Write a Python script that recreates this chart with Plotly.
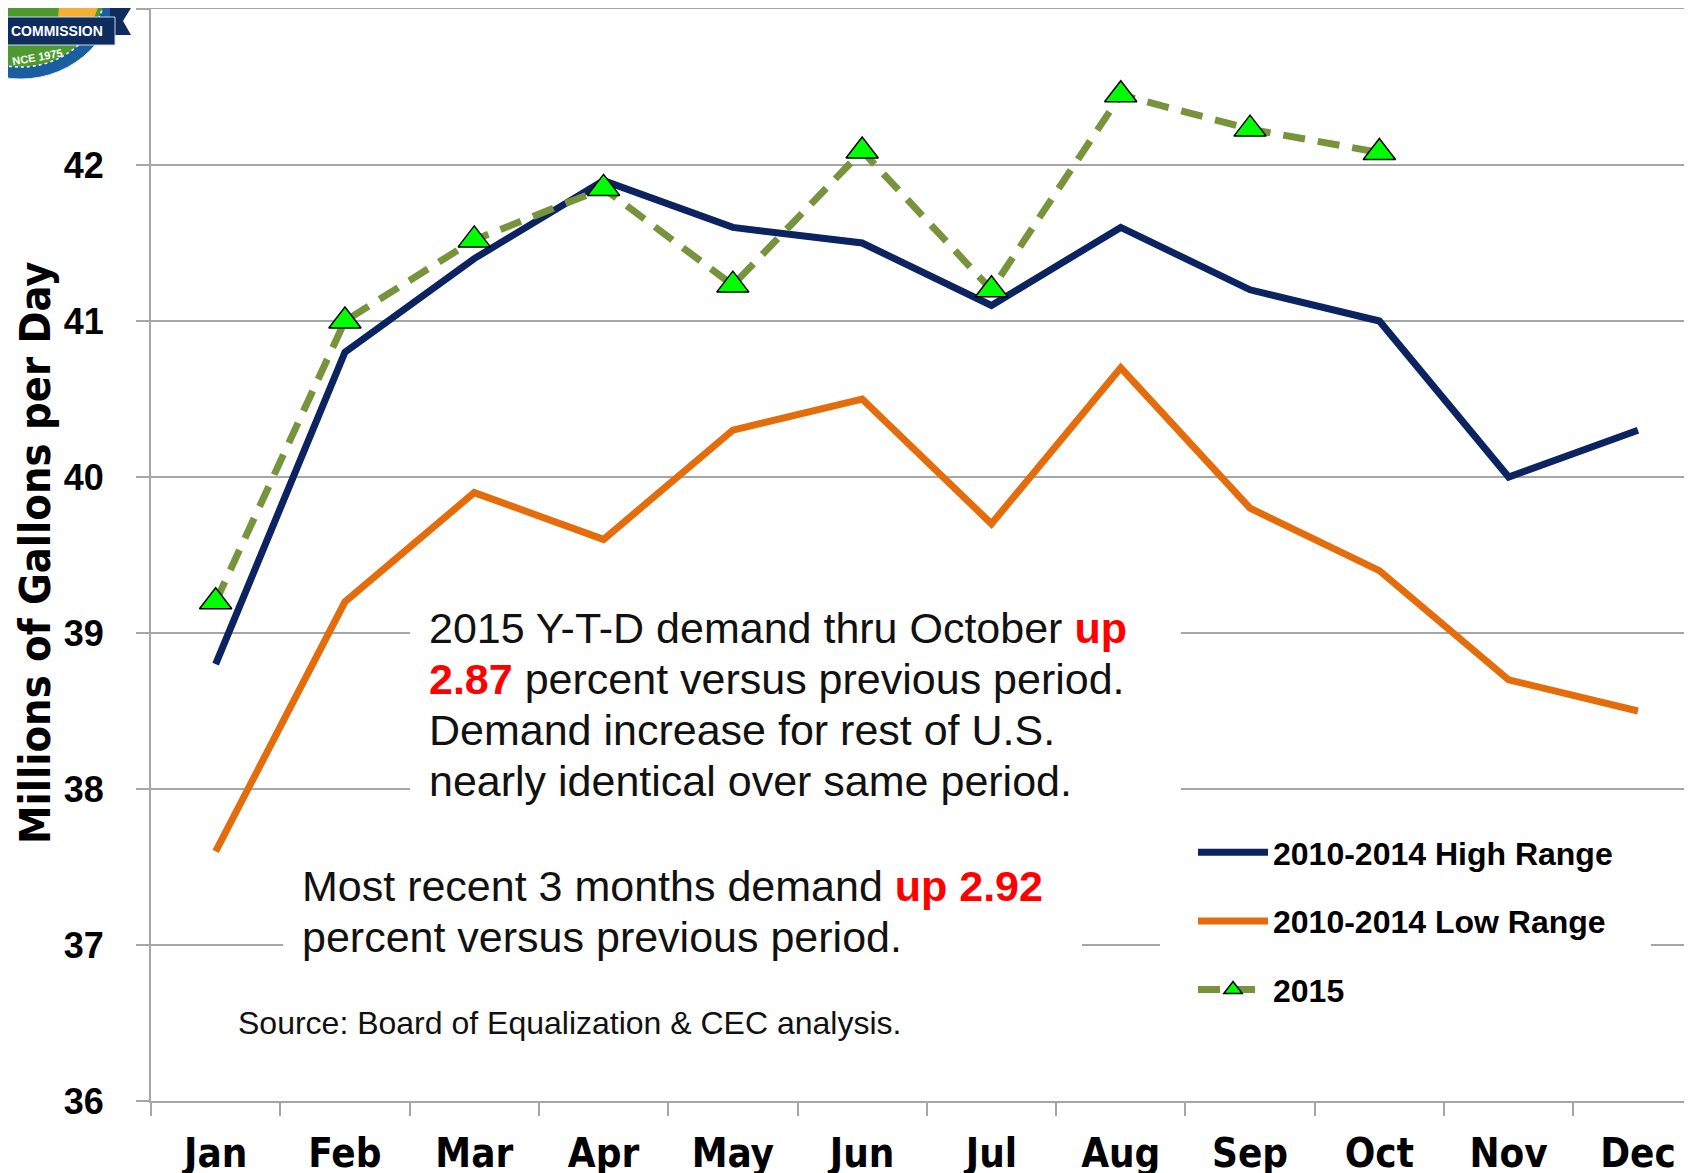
import plotly.graph_objects as go

months = ["Jan", "Feb", "Mar", "Apr", "May", "Jun", "Jul", "Aug", "Sep", "Oct", "Nov", "Dec"]
high_range = [38.8, 40.8, 41.4, 41.9, 41.6, 41.5, 41.1, 41.6, 41.2, 41.0, 40.0, 40.3]
low_range = [37.6, 39.2, 39.9, 39.6, 40.3, 40.5, 39.7, 40.7, 39.8, 39.4, 38.7, 38.5]
months_2015 = ["Jan", "Feb", "Mar", "Apr", "May", "Jun", "Jul", "Aug", "Sep", "Oct"]
y2015 = [39.2, 41.0, 41.52, 41.85, 41.23, 42.09, 41.2, 42.45, 42.23, 42.08]
y_ticks = [36, 37, 38, 39, 40, 41, 42, 43]
y_tick_text = ["36", "37", "38", "39", "40", "41", "42", ""]

NAVY = "#0B2461"
ORANGE = "#E46C0A"
OLIVE = "#77933C"
GRID = "#A6A6A6"
RED = "#FF0000"

# page is rendered with an 8px body margin; compensate so the plot lands where intended
OFF = 8
PAGE_W, PAGE_H = 1692, 1173
PLOT_L, PLOT_T, PLOT_B = 151, 9, 1101          # page pixel positions of plot area
W, H = PAGE_W - OFF, PAGE_H - OFF
L, T = PLOT_L - OFF, PLOT_T - OFF
R = 0
B = H - (PLOT_B - OFF)
PW, PH = W - L - R, H - T - B


def px(x):
    return (x - PLOT_L) / PW


def py(y):
    return (PLOT_B - y) / PH


fig = go.Figure()
fig.add_trace(go.Scatter(x=months, y=low_range, mode="lines", name="2010-2014 Low Range",
                         line=dict(color=ORANGE, width=7), legendrank=2, legendgroup="b"))
fig.add_trace(go.Scatter(x=months, y=high_range, mode="lines", name="2010-2014 High Range",
                         line=dict(color=NAVY, width=7), legendrank=1, legendgroup="a"))
fig.add_trace(go.Scatter(x=months_2015, y=y2015, mode="lines+markers", name="2015",
                         line=dict(color=OLIVE, width=7, dash="22px,13px"),
                         marker=dict(symbol="triangle-up", size=28, color="#00FF00",
                                     line=dict(color="black", width=1.5)),
                         legendrank=3, legendgroup="c"))

shapes = []
# white boxes behind the text blocks and legend (cover gridlines; no data line crosses them)
for x0, x1, y0, y1 in [(410, 1181, 805, 600), (283, 1082, 965, 860), (1160, 1651, 1012, 830)]:
    shapes.append(dict(type="rect", xref="paper", yref="paper", layer="above",
                       x0=px(x0), x1=px(x1), y0=py(y0), y1=py(y1),
                       fillcolor="white", line=dict(width=0)))

# logo approximation (top-left corner)
shapes.append(dict(type="circle", xref="paper", yref="paper", layer="above",
                   x0=px(-77), x1=px(119), y0=py(79), y1=py(-117),
                   fillcolor="#1A5E9F", line=dict(color="#D8E4F0", width=1)))
shapes.append(dict(type="circle", xref="paper", yref="paper", layer="above",
                   x0=px(-65), x1=px(107), y0=py(67), y1=py(-105),
                   fillcolor="#4E9A2E", line=dict(color="white", width=1.5, dash="dot")))
yellow_pts = [(58, 18), (94, 18), (101, 0), (102, -5), (60, -5)]
path = "M " + " L ".join(f"{px(a)},{py(b)}" for a, b in yellow_pts) + " Z"
shapes.append(dict(type="path", xref="paper", yref="paper", layer="above", path=path,
                   fillcolor="#F2B134", line=dict(width=0)))
tail_pts = [(110, 8), (131, 8), (123, 21), (131, 35), (110, 35)]
path = "M " + " L ".join(f"{px(a)},{py(b)}" for a, b in tail_pts) + " Z"
shapes.append(dict(type="path", xref="paper", yref="paper", layer="above", path=path,
                   fillcolor="#0E2D5E", line=dict(width=0)))
shapes.append(dict(type="rect", xref="paper", yref="paper", layer="above",
                   x0=px(-5), x1=px(115), y0=py(45), y1=py(17),
                   fillcolor="#0E2D5E", line=dict(color="#C9D6E6", width=1)))

BODY = dict(family="Liberation Sans, Arial, sans-serif", size=43, color="#111111")


def red(t):
    return f'<b><span style="color:{RED}">{t}</span></b>'


box1 = [
    "2015 Y-T-D demand thru October " + red("up"),
    red("2.87") + " percent versus previous period.",
    "Demand increase for rest of U.S.",
    "nearly identical over same period.",
]
box1_y = [628, 679, 730, 781]
box2 = [
    "Most recent 3 months demand " + red("up 2.92"),
    "percent versus previous period.",
]
box2_y = [886, 937]

annotations = []
for t, yy in zip(box1, box1_y):
    annotations.append(dict(text=t, xref="paper", yref="paper", x=px(427), y=py(yy),
                            xanchor="left", yanchor="middle", showarrow=False, font=BODY))
for t, yy in zip(box2, box2_y):
    annotations.append(dict(text=t, xref="paper", yref="paper", x=px(300), y=py(yy),
                            xanchor="left", yanchor="middle", showarrow=False, font=BODY))
annotations.append(dict(text="Source: Board of Equalization & CEC analysis.", xref="paper", yref="paper",
                        x=px(236), y=py(1023), xanchor="left", yanchor="middle", showarrow=False,
                        font=dict(family="Liberation Sans, Arial, sans-serif", size=32, color="#111111")))
annotations.append(dict(text="Millions of Gallons per Day", xref="paper", yref="paper",
                        x=px(35), y=py(553), textangle=-90, xanchor="center", yanchor="middle",
                        showarrow=False,
                        font=dict(family="Liberation Sans Narrow, DejaVu Sans Condensed, Liberation Sans",
                                  size=43, color="black", weight="bold")))
annotations.append(dict(text="COMMISSION", xref="paper", yref="paper", x=px(57), y=py(31),
                        xanchor="center", yanchor="middle", showarrow=False,
                        font=dict(family="Liberation Sans, Arial", size=14, color="white", weight="bold")))
annotations.append(dict(text="NCE 1975", xref="paper", yref="paper", x=px(37), y=py(57),
                        xanchor="center", yanchor="middle", showarrow=False, textangle=-10,
                        font=dict(family="Liberation Sans, Arial", size=11, color="white", weight="bold")))

fig.update_layout(
    width=W, height=H,
    margin=dict(l=L, r=R, t=T, b=B, pad=0, autoexpand=False),
    paper_bgcolor="white", plot_bgcolor="white",
    showlegend=True,
    legend=dict(x=px(1193), y=py(825), xanchor="left", yanchor="top",
                bgcolor="white", borderwidth=0, tracegroupgap=24, itemwidth=70,
                font=dict(family="Liberation Sans, Arial, sans-serif", size=32, color="black",
                          weight="bold")),
    shapes=shapes,
    annotations=annotations,
    xaxis=dict(type="category", categoryorder="array", categoryarray=months,
               range=[-0.5, -0.5 + PW / 129.3], automargin=False,
               showgrid=False, showline=True, linecolor=GRID, linewidth=2, mirror=True,
               ticks="outside", ticklen=13, tickwidth=1.5, tickcolor=GRID, tickson="boundaries",
               ticklabelstandoff=16,
               tickfont=dict(family="Liberation Sans Narrow, DejaVu Sans Condensed, Liberation Sans",
                             size=40, color="black", weight="bold"),
               fixedrange=True),
    yaxis=dict(range=[36, 43], tickvals=y_ticks, ticktext=y_tick_text, automargin=False,
               showgrid=True, gridcolor=GRID, gridwidth=2,
               showline=True, linecolor=GRID, linewidth=2,
               ticks="outside", ticklen=13, tickwidth=2, tickcolor=GRID,
               ticklabelstandoff=25,
               tickfont=dict(family="Liberation Sans, Arial, sans-serif", size=36, color="black",
                             weight="bold"),
               zeroline=False, fixedrange=True),
)

fig.write_html("out.html")
